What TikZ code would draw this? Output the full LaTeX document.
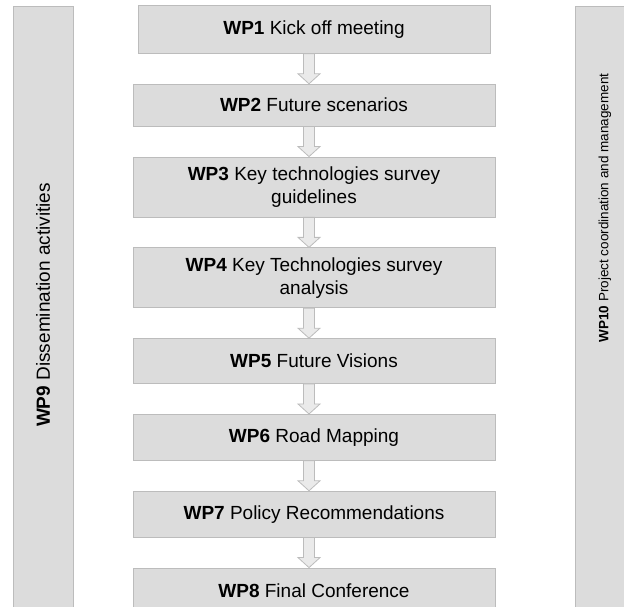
\documentclass[tikz,border=0pt]{standalone}
\usepackage{fontspec}
\setmainfont{Liberation Sans}
\usepackage{tikz}
\usetikzlibrary{positioning}
\definecolor{boxfill}{RGB}{220,220,220}
\definecolor{boxline}{RGB}{188,188,188}
\definecolor{arrowfill}{RGB}{234,234,234}

\begin{document}
\begin{tikzpicture}[
  x=1pt, y=1pt,
  node distance=30pt,
  wp/.style={draw=boxline, fill=boxfill, line width=0.8pt, minimum width=362pt,
    align=center, inner sep=2pt, font=\fontsize{19}{23}\selectfont},
  sidebar/.style={draw=boxline, fill=boxfill, line width=0.8pt,
    minimum width=60pt, minimum height=612pt},
  sidetext/.style={rotate=90, inner sep=0pt},
  blockar/.style={draw=boxline, fill=arrowfill, line width=0.8pt}
]
\useasboundingbox (0,0) rectangle (624,607);
\clip (0,0) rectangle (624,607);
% side bars
\node[sidebar] (bar9) at (43,295) {};
\node[sidebar] (bar10) at (605,295) {};
\node[sidetext, font=\fontsize{19}{23}\selectfont] (wp9) at ([yshift=7pt]bar9.center)
  {\textbf{WP9} Dissemination activities};
\node[sidetext, font=\fontsize{13.5}{16}\selectfont] (wp10) at ([yshift=104pt]bar10.center)
  {\textbf{WP10} Project coordination and management};
% work package chain
\node[wp, minimum width=352pt, minimum height=48pt, anchor=north] (wp1) at (314,602) {\textbf{WP1} Kick off meeting};
\node[wp, minimum height=42pt, below=of wp1] (wp2) {\textbf{WP2} Future scenarios};
\node[wp, minimum height=60pt, below=of wp2] (wp3) {\textbf{WP3} Key technologies survey\\guidelines};
\node[wp, minimum height=60pt, below=of wp3] (wp4) {\textbf{WP4} Key Technologies survey\\analysis};
\node[wp, minimum height=45pt, below=of wp4] (wp5) {\textbf{WP5} Future Visions};
\node[wp, minimum height=46pt, below=of wp5] (wp6) {\textbf{WP6} Road Mapping};
\node[wp, minimum height=46pt, below=of wp6] (wp7) {\textbf{WP7} Policy Recommendations};
\node[wp, minimum height=46pt, below=of wp7] (wp8) {\textbf{WP8} Final Conference};
% block arrows between packages
\foreach \a/\b in {wp1/wp2,wp2/wp3,wp3/wp4,wp4/wp5,wp5/wp6,wp6/wp7,wp7/wp8}
  \draw[blockar] ([xshift=-10.5pt]\a.south) -- ([xshift=-10.5pt,yshift=10pt]\b.north)
    -- ([xshift=-16pt,yshift=10pt]\b.north) -- ([xshift=-5pt]\b.north)
    -- ([xshift=6pt,yshift=10pt]\b.north) -- ([xshift=0.5pt,yshift=10pt]\b.north)
    -- ([xshift=0.5pt]\a.south) -- cycle;
\end{tikzpicture}
\end{document}
